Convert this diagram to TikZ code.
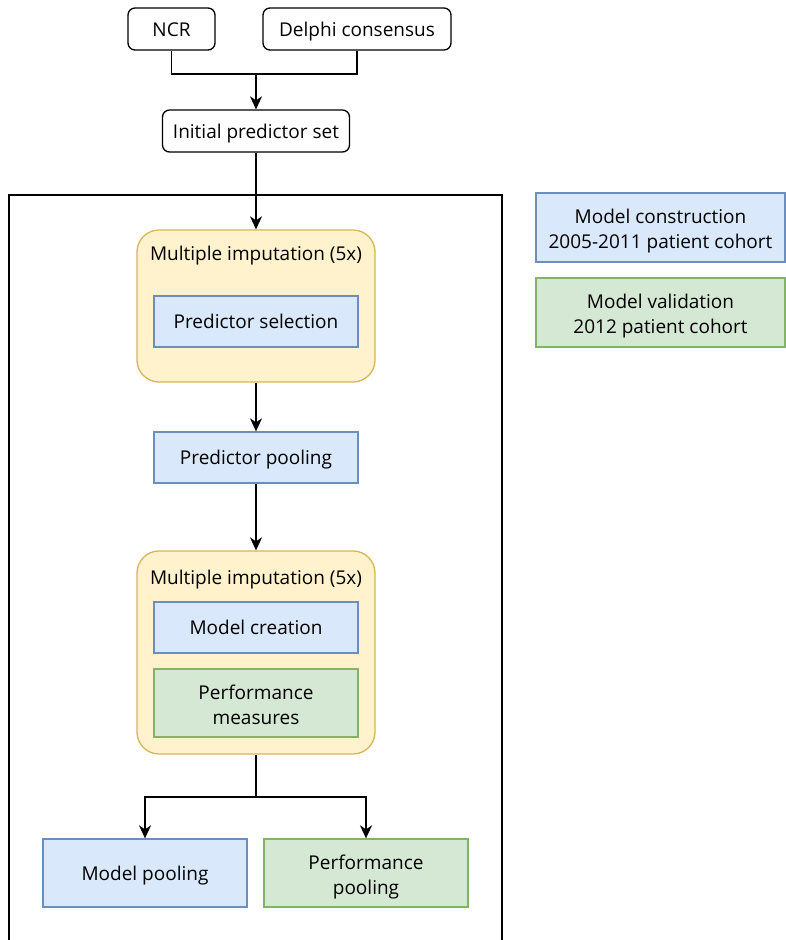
\documentclass[tikz,border=0pt]{standalone}
\usepackage{fontspec}
\setmainfont{Open Sans}
\usetikzlibrary{arrows.meta}
\definecolor{bluef}{HTML}{DAE8FC}
\definecolor{bluel}{HTML}{6C8EBF}
\definecolor{greenf}{HTML}{D5E8D4}
\definecolor{greenl}{HTML}{82B366}
\definecolor{yellf}{HTML}{FFF2CC}
\definecolor{yelll}{HTML}{D6B656}
\tikzset{
  base/.style={inner sep=0pt, align=center, font=\fontsize{19}{25}\selectfont, line width=1.3pt, text height=16.8pt, text depth=1.9pt},
  two/.style={text height=44.8pt, text depth=1.9pt},
  rbox/.style={base, draw=black, fill=white, rounded corners=7pt},
  bluebox/.style={base, draw=bluel, fill=bluef, minimum width=204pt},
  greenbox/.style={base, draw=greenl, fill=greenf, minimum width=204pt},
  yellbox/.style={base, draw=yelll, fill=yellf, rounded corners=22pt, minimum width=238pt},
  lbl/.style={base},
  conn/.style={line width=1.6pt, black},
  arr/.style={conn, -{Stealth[length=13pt, width=12pt, inset=4pt]}},
}
\begin{document}
\begin{tikzpicture}[x=1pt, y=-1pt]
\useasboundingbox (0,0) rectangle (785,940);
% outer frame
\draw[line width=1.3pt] (9,941) -- (9,195) -- (502,195) -- (502,941);
% top boxes
\node[rbox, minimum width=87pt, minimum height=42pt] (ncr) at (171.5,29) {NCR};
\node[rbox, minimum width=188pt, minimum height=42pt] (delphi) at (357,29) {Delphi consensus};
\node[rbox, minimum width=187pt, minimum height=42pt] (init) at (256,131) {Initial predictor set};
\coordinate (j1) at (256,74);
\draw[conn] (ncr.south) |- (j1) -| (delphi.south);
\draw[arr] (j1) -- (init.north);
% yellow 1
\node[yellbox, minimum height=152pt] (mi1) at (256,306) {};
\node[lbl] (mi1t) at (256,253) {Multiple imputation (5x)};
\node[bluebox, minimum height=51pt] (psel) at (256,321.5) {Predictor selection};
\draw[arr] (init.south) -- (mi1.north);
% predictor pooling
\node[bluebox, minimum height=51pt] (ppool) at (256,457.5) {Predictor pooling};
\draw[arr] (mi1.south) -- (ppool.north);
% yellow 2
\node[yellbox, minimum height=203pt] (mi2) at (256,652.5) {};
\node[lbl] (mi2t) at (256,577) {Multiple imputation (5x)};
\node[bluebox, minimum height=51pt] (mcre) at (256,627.5) {Model creation};
\node[greenbox, two, minimum height=68pt] (perf) at (256,703) {Performance\\measures};
\draw[arr] (ppool.south) -- (mi2.north);
% bottom
\node[bluebox, minimum height=68pt] (mpool) at (145,873) {Model pooling};
\node[greenbox, two, minimum height=68pt] (ppl) at (366,873) {Performance\\pooling};
\coordinate (j2) at (256,797);
\draw[conn] (mi2.south) -- (j2);
\draw[arr] (j2) -| (mpool.north);
\draw[arr] (j2) -| (ppl.north);
% legend
\node[bluebox, two, minimum width=249pt, minimum height=69pt] (leg1) at (660.5,227.5) {Model construction\\2005-2011 patient cohort};
\node[greenbox, two, minimum width=249pt, minimum height=69pt] (leg2) at (660.5,312.5) {Model validation\\2012 patient cohort};
\end{tikzpicture}
\end{document}
